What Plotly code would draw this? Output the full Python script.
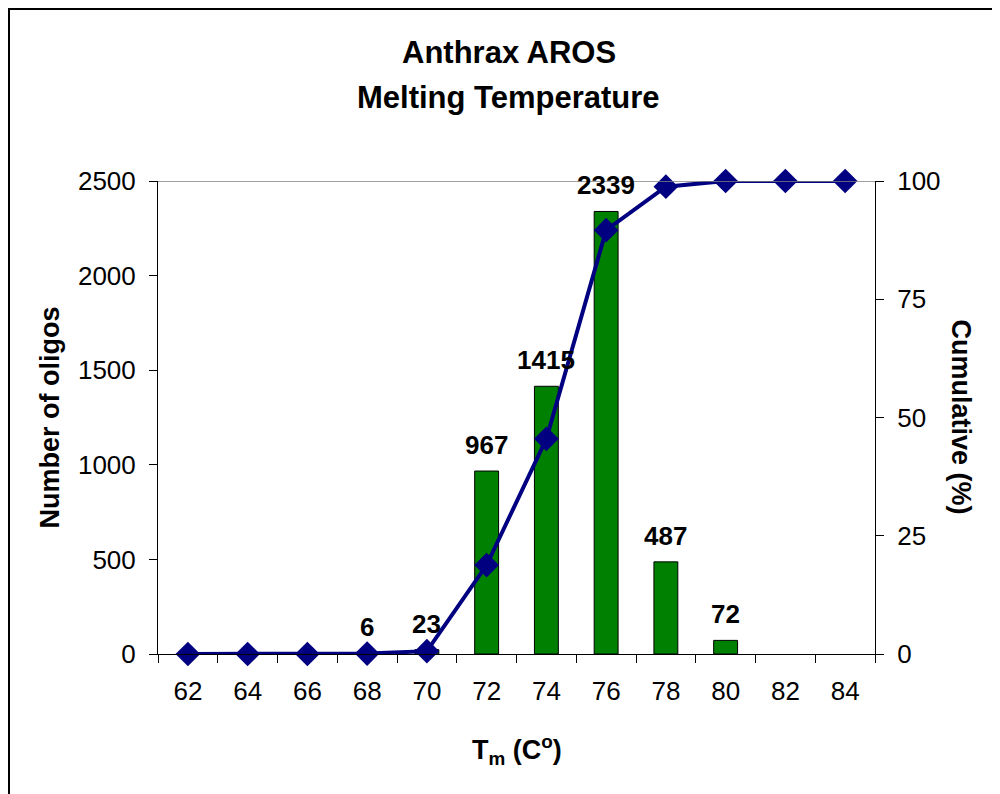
import plotly.graph_objects as go

categories = ["62", "64", "66", "68", "70", "72", "74", "76", "78", "80", "82", "84"]
counts = [0, 0, 0, 6, 23, 967, 1415, 2339, 487, 72, 0, 0]
cumulative = [0, 0, 0, 0.1, 0.6, 18.8, 45.5, 89.6, 98.8, 100, 100, 100]
y_ticks = [0, 500, 1000, 1500, 2000, 2500]
y2_ticks = [0, 25, 50, 75, 100]

FONT = "Liberation Sans, Arial, sans-serif"
NAVY = "#000080"
GREEN = "#008000"

fig = go.Figure()
fig.add_trace(go.Bar(
    x=categories, y=counts,
    marker=dict(color=GREEN, line=dict(color="black", width=[1 if v > 0 else 0 for v in counts])),
    showlegend=False, hoverinfo="x+y",
))
fig.add_trace(go.Scatter(
    x=categories, y=cumulative, yaxis="y2", mode="lines+markers",
    line=dict(color=NAVY, width=4),
    marker=dict(symbol="diamond", size=19, color=NAVY),
    cliponaxis=False, showlegend=False,
))

axis_common = dict(showgrid=False, zeroline=False, linecolor="black", linewidth=1,
                   tickcolor="black", tickwidth=1, ticklen=8,
                   tickfont=dict(family=FONT, size=26, color="black"))

fig.update_layout(
    width=1000, height=794,
    margin=dict(l=150, r=133, t=173, b=148),
    paper_bgcolor="white", plot_bgcolor="white",
    bargap=0.6,
    xaxis=dict(type="category", categoryorder="array", categoryarray=categories,
               range=[-0.5, 11.5], tickson="boundaries", ticks="outside",
               showline=True, ticklabelstandoff=14, **axis_common),
    xaxis2=dict(type="category", categoryorder="array", categoryarray=categories,
                overlaying="x", anchor="y", side="bottom",
                range=[-0.5, 11.5], tickson="boundaries", ticks="inside",
                showline=False, showticklabels=False, **axis_common),
    yaxis=dict(range=[0, 2500], tickvals=y_ticks, ticks="outside", showline=True,
               ticklabelstandoff=8, **axis_common),
    yaxis2=dict(range=[0, 100], tickvals=y2_ticks, ticks="outside", showline=True,
                overlaying="y", side="right", anchor="x", ticklabelstandoff=8, **axis_common),
    yaxis3=dict(range=[0, 2500], tickvals=y_ticks, ticks="inside", showline=False,
                overlaying="y", side="left", anchor="x", showticklabels=False, **axis_common),
    yaxis4=dict(range=[0, 100], tickvals=y2_ticks, ticks="inside", showline=False,
                overlaying="y", side="right", anchor="x", showticklabels=False, **axis_common),
)

# top gridline at max value
fig.add_shape(type="line", xref="paper", yref="y", x0=0, x1=1, y0=y_ticks[-1], y1=y_ticks[-1],
              line=dict(color="#808080", width=1.5))
# outer chart border
fig.add_shape(type="rect", xref="paper", yref="paper", x0=-0.2078, x1=1.25, y0=-0.35, y1=1.3636,
              line=dict(color="black", width=2), fillcolor="rgba(0,0,0,0)", layer="above")

# data labels
for i, v in enumerate(counts):
    if v > 0:
        fig.add_annotation(x=i, y=v, xref="x", yref="y", text="<b>" + str(v) + "</b>",
                           showarrow=False, yanchor="bottom", yshift=9,
                           font=dict(family=FONT, size=26, color="black"))

title_font = dict(family=FONT, size=31, color="black")
fig.add_annotation(x=0.4889, y=1.2717, xref="paper", yref="paper", text="<b>Anthrax AROS</b>",
                   showarrow=False, font=title_font, xanchor="center", yanchor="middle")
fig.add_annotation(x=0.4889, y=1.1765, xref="paper", yref="paper", text="<b>Melting Temperature</b>",
                   showarrow=False, font=title_font, xanchor="center", yanchor="middle")

axt_font = dict(family=FONT, size=27, color="black")
fig.add_annotation(x=-0.152, y=0.5, xref="paper", yref="paper", text="<b>Number of oligos</b>",
                   textangle=-90, showarrow=False, font=axt_font, xanchor="center", yanchor="middle")
fig.add_annotation(x=1.1213, y=0.5, xref="paper", yref="paper", text="<b>Cumulative (%)</b>",
                   textangle=90, showarrow=False, font=axt_font, xanchor="center", yanchor="middle")
fig.add_annotation(x=0.5007, y=-0.203, xref="paper", yref="paper",
                   text="<b>T<sub>m</sub> (C<sup>o</sup>)</b>",
                   showarrow=False, font=axt_font, xanchor="center", yanchor="middle")

fig.write_html("out.html")
